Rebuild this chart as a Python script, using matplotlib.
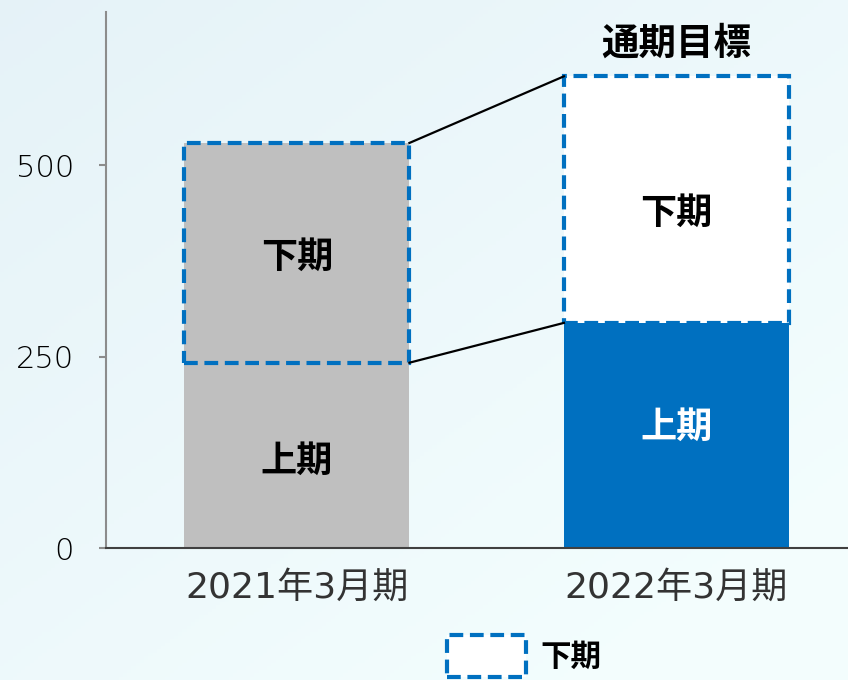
import matplotlib
matplotlib.use("Agg")
import matplotlib.pyplot as plt
import matplotlib.patches as mpatches
import numpy as np

plt.rcParams['font.family'] = ['Noto Sans CJK JP', 'DejaVu Sans']

periods = ['2021年3月期', '2022年3月期']
first_half = [242, 294]    # 上期
second_half = [287, 322]   # 下期
lower_colors = ['#bfbfbf', '#0070c0']
upper_colors = ['#bfbfbf', '#ffffff']
lower_text = ['black', 'white']
# where the segment labels sit (value units)
lower_label_y = [113, 158]
upper_label_y = [380, 437]
yticks = [0, 250, 500]

blue = '#0070c0'
dash = (0, (3.3, 1.6))

fig = plt.figure(figsize=(8.48, 6.8), dpi=100)

# soft light-blue background
bg = fig.add_axes([0, 0, 1, 1], zorder=-10)
gx, gy = np.meshgrid(np.linspace(0, 1, 200), np.linspace(0, 1, 200))
grad = np.clip(0.55 * gx + 0.6 * gy, 0, 1)
c0 = np.array([0.90, 0.95, 0.972])
c1 = np.array([0.955, 0.995, 0.995])
img = c0[None, None, :] * (1 - grad[..., None]) + c1[None, None, :] * grad[..., None]
bg.imshow(img, aspect='auto', extent=[0, 1, 0, 1])
bg.axis('off')

ax = fig.add_axes([106 / 848, 132 / 680, 742 / 848, 536 / 680])
ax.patch.set_alpha(0)

x = np.arange(len(periods))
w = 0.593

ax.bar(x, first_half, width=w, color=lower_colors, zorder=2)
ax.bar(x, second_half, width=w, bottom=first_half, color=upper_colors, zorder=2)
ax.bar(x, second_half, width=w, bottom=first_half, fill=False,
       edgecolor=blue, linewidth=3, linestyle=dash, zorder=3)

totals = [a + b for a, b in zip(first_half, second_half)]

# connectors between the bars
ax.plot([x[0] + w / 2, x[1] - w / 2], [totals[0], totals[1]], color='black', lw=1.6, zorder=4)
ax.plot([x[0] + w / 2, x[1] - w / 2], [first_half[0], first_half[1]], color='black', lw=1.6, zorder=4)

for i in range(len(periods)):
    ax.text(x[i], lower_label_y[i], '上期', ha='center', va='center',
            fontsize=26, fontweight='bold', color=lower_text[i], zorder=5)
    ax.text(x[i], upper_label_y[i], '下期', ha='center', va='center',
            fontsize=26, fontweight='bold', color='black', zorder=5)

ax.text(x[1], totals[1] + 18, '通期目標', ha='center', va='bottom',
        fontsize=27, fontweight='bold', color='black')

ax.set_xlim(-0.503, 1.452)
ax.set_ylim(0, 700)
ax.set_yticks(yticks)
ax.set_yticklabels([str(v) for v in yticks], fontsize=22, color='black',
                   family=['DejaVu Sans'], fontweight='light')
ax.set_xticks(x)
ax.set_xticklabels(periods, fontsize=26, color='#333333',
                   family=['DejaVu Sans', 'Noto Sans CJK JP'])

ax.spines['top'].set_visible(False)
ax.spines['right'].set_visible(False)
ax.spines['left'].set_color('#8c8c8c')
ax.spines['left'].set_linewidth(1.5)
ax.spines['bottom'].set_color('#404040')
ax.spines['bottom'].set_linewidth(1.5)
ax.tick_params(axis='y', length=5, width=1.5, color='#8c8c8c', pad=18)
ax.tick_params(axis='x', length=0, pad=16)

handle = mpatches.Patch(facecolor='white', edgecolor=blue, linewidth=3, linestyle=dash)
fig.legend([handle], ['下期'], loc='center', bbox_to_anchor=(524 / 848, 1 - 656 / 680),
           frameon=False, handlelength=2.6, handleheight=1.75, handletextpad=0.45,
           prop={'size': 22, 'weight': 'bold'})

fig.savefig('out.png', dpi=100)
